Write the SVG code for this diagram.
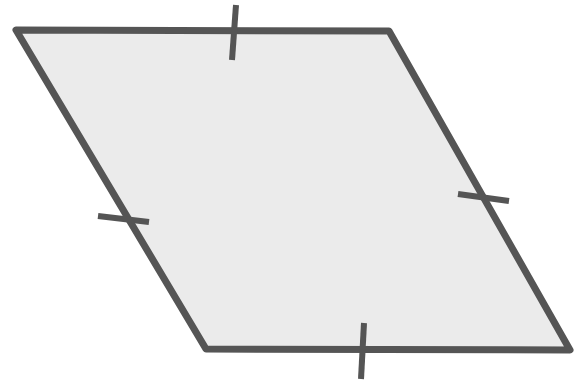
<svg xmlns="http://www.w3.org/2000/svg" width="574" height="383" viewBox="0 0 574 383">
<style>
.shape{fill:#ebebeb;stroke:#555555;stroke-width:7;stroke-linejoin:round}
.tick{stroke:#555555;stroke-width:6;stroke-linecap:butt}
</style>
<rect width="574" height="383" fill="#ffffff"/>
<g id="rhombus">
<polygon class="shape" points="16,30 389,31 570,350 206,349"/>
</g>
<g id="ticks">
<line class="tick" x1="236" y1="5" x2="232" y2="60"/>
<line class="tick" x1="364" y1="323" x2="361" y2="379"/>
<line class="tick" x1="98" y1="216" x2="149" y2="222"/>
<line class="tick" x1="458" y1="194" x2="509" y2="201"/>
</g>
</svg>
